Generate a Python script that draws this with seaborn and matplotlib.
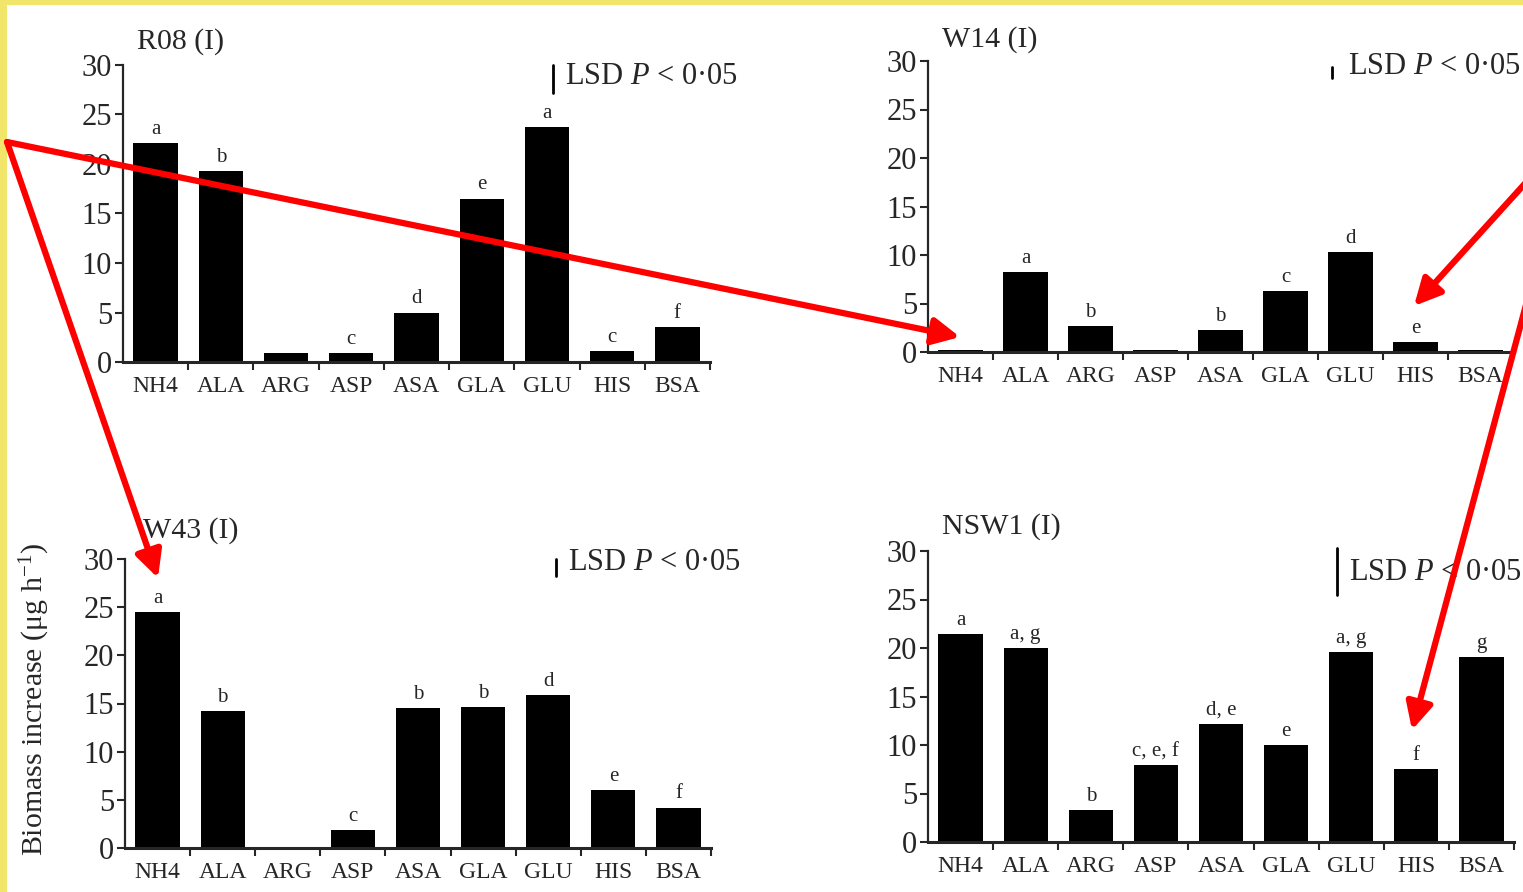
import matplotlib
matplotlib.use("Agg")
import matplotlib.pyplot as plt
import matplotlib.transforms as mtrans
from matplotlib.patches import Rectangle, FancyArrowPatch
import seaborn as sns
import pandas as pd
import numpy as np

# ---------------- data ----------------
categories = ["NH4", "ALA", "ARG", "ASP", "ASA", "GLA", "GLU", "HIS", "BSA"]

r08 = [22.1, 19.3, 0.9, 0.9, 5.0, 16.5, 23.7, 1.1, 3.5]
r08_letters = ["a", "b", "", "c", "d", "e", "a", "c", "f"]

w14 = [0.2, 8.2, 2.7, 0.2, 2.3, 6.3, 10.3, 1.0, 0.25]
w14_letters = ["", "a", "b", "", "b", "c", "d", "e", ""]

w43 = [24.5, 14.2, 0.15, 1.9, 14.5, 14.6, 15.9, 6.0, 4.2]
w43_letters = ["a", "b", "", "c", "b", "b", "d", "e", "f"]

nsw1 = [21.4, 20.0, 3.3, 7.9, 12.2, 10.0, 19.6, 7.5, 19.1]
nsw1_letters = ["a", "a, g", "b", "c, e, f", "d, e", "e", "a, g", "f", "g"]

titles = ["R08 (I)", "W14 (I)", "W43 (I)", "NSW1 (I)"]
lsd_values = [2.8, 1.2, 1.8, 4.8]
y_ticks = [0, 5, 10, 15, 20, 25, 30]
ylabel = "Biomass increase (μg h$^{-1}$)"
lsd_text = "LSD $P$ < 0·05"

# ---------------- style ----------------
sns.set_style("ticks")
plt.rcParams['font.family'] = ['Liberation Serif', 'DejaVu Serif']
plt.rcParams['mathtext.fontset'] = 'custom'
plt.rcParams['mathtext.rm'] = 'Liberation Serif'
plt.rcParams['mathtext.it'] = 'Liberation Serif:italic'
plt.rcParams['axes.facecolor'] = 'none'

W, H = 1523, 892
fig = plt.figure(figsize=(W / 100, H / 100), dpi=100)
fig.patch.set_facecolor('#f2e66a')
fig.add_artist(Rectangle((7 / W, 0), 1 - 7 / W, 1 - 5 / H, transform=fig.transFigure,
                         facecolor='white', edgecolor='none', zorder=-10))


def px(x, y):
    return (x / W, 1 - y / H)


# axes rectangles in pixels: left, right, y_of_zero, y_of_30
panels = [
    dict(vals=r08, letters=r08_letters, box=(123, 710, 362, 65),
         title_px=(137, 42), lsd_x=553, lsd_top=30.0, text_px=(565, 76)),
    dict(vals=w14, letters=w14_letters, box=(928, 1513, 352, 61),
         title_px=(942, 40), lsd_x=1332, lsd_top=29.4, text_px=(1348, 67)),
    dict(vals=w43, letters=w43_letters, box=(125, 711, 848, 559),
         title_px=(143, 531), lsd_x=556, lsd_top=30.0, text_px=(568, 563)),
    dict(vals=nsw1, letters=nsw1_letters, box=(928, 1514, 842, 551),
         title_px=(942, 527), lsd_x=1337, lsd_top=30.3, text_px=(1349, 572)),
]

for k, p in enumerate(panels):
    l, r, y0, y30 = p['box']
    ax = fig.add_axes([l / W, 1 - y0 / H, (r - l) / W, (y0 - y30) / H])
    df = pd.DataFrame({"cat": categories, "val": p['vals']})
    sns.barplot(data=df, x="cat", y="val", color="black", saturation=1,
                width=0.68, ax=ax, linewidth=0)
    ax.set_xlim(-0.5, 8.5)
    ax.set_ylim(0, 30)
    ax.set_xlabel("")
    ax.set_ylabel("")
    sns.despine(ax=ax)
    ax.spines['left'].set_linewidth(1.6)
    ax.spines['bottom'].set_linewidth(2.2)
    ax.set_yticks(y_ticks)
    ax.tick_params(axis='y', length=6, width=1.5, labelsize=22, pad=2, direction='out')
    ax.set_xticks(range(len(categories)))
    ax.set_xticklabels(categories)
    ax.tick_params(axis='x', which='major', length=0, labelsize=17, pad=10)
    ax.set_xticks(np.arange(0.5, len(categories), 1), minor=True)
    ax.tick_params(axis='x', which='minor', length=6, width=1.5, direction='out')
    for i, (v, lab) in enumerate(zip(p['vals'], p['letters'])):
        if lab:
            ax.annotate(lab, (i, v), xytext=(0, 3), textcoords='offset points',
                        ha='center', va='bottom', fontsize=15, annotation_clip=False)
    # LSD bar
    trans = mtrans.blended_transform_factory(ax.transAxes, ax.transData)
    xf = (p['lsd_x'] - l) / (r - l)
    ax.plot([xf, xf], [p['lsd_top'] - lsd_values[k], p['lsd_top']], transform=trans,
            color='black', lw=2, clip_on=False)
    tx, ty = px(*p['text_px'])
    fig.text(tx, ty, lsd_text, ha='left', va='center', fontsize=22)
    ttx, tty = px(*p['title_px'])
    fig.text(ttx, tty, titles[k], ha='left', va='center', fontsize=21.5)

yx, yy = px(35, 700)
fig.text(yx, yy, ylabel, rotation=90, ha='center', va='center', fontsize=21.5)


# red annotation arrows
def arrow(x0, y0, x1, y1):
    fig.add_artist(FancyArrowPatch(px(x0, y0), px(x1, y1), transform=fig.transFigure,
                                   arrowstyle='-|>,head_length=0.8,head_width=0.4',
                                   mutation_scale=20, color='#ff0000', lw=4.5,
                                   shrinkA=0, shrinkB=0, zorder=20))


arrow(7, 142, 960, 337)
arrow(7, 142, 158, 578)
arrow(1530, 178, 1414, 306)
arrow(1530, 290, 1412, 730)

fig.savefig("out.png", dpi=100, facecolor=fig.get_facecolor())
